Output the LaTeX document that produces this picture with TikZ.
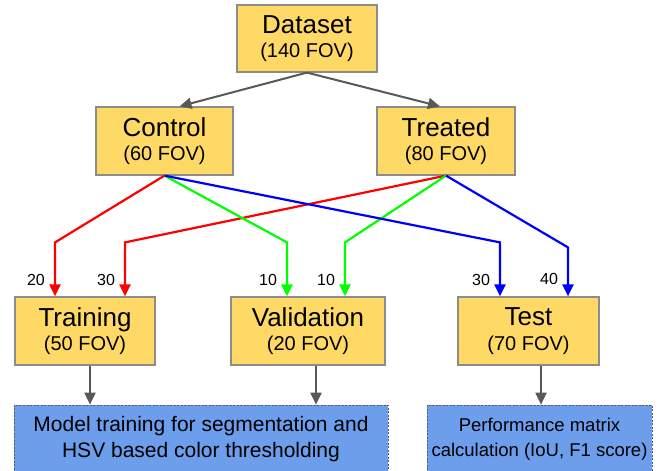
\documentclass[tikz,border=0pt]{standalone}
\usepackage{fontspec}
\setmainfont{Liberation Sans}
\usetikzlibrary{arrows.meta, positioning, calc}
\definecolor{boxyellow}{RGB}{255, 217, 102}
\definecolor{boxedge}{RGB}{140, 140, 140}
\definecolor{taskblue}{RGB}{109, 158, 235}
\definecolor{flowgray}{RGB}{89, 89, 89}
\definecolor{splitred}{RGB}{255, 0, 0}
\definecolor{splitgreen}{RGB}{0, 255, 0}
\definecolor{splitblue}{RGB}{0, 0, 255}
\newcommand{\fovtext}[2]{{\fontsize{26}{26}\selectfont\raisebox{0pt}[\height][0pt]{#1}}\\[9pt]{\fontsize{20}{20}\selectfont (#2 FOV)}}
\tikzset{
  fovnode/.style={draw=boxedge, fill=boxyellow, line width=1.2pt, minimum height=68pt, inner sep=0pt, align=center},
  tasknode/.style={draw=flowgray, dash pattern=on 2pt off 1.5pt, line width=0.7pt, fill=taskblue, minimum height=68pt, inner sep=0pt, align=center},
  flowarrow/.style={-{Triangle[length=12pt, width=11pt]}, line width=2pt, flowgray},
  splitarrow/.style={-{Triangle[length=12pt, width=11pt]}, line width=2.2pt},
  cntlabel/.style={font=\fontsize{16}{16}\selectfont, text=black, inner sep=0pt},
}
\begin{document}
\begin{tikzpicture}[x=1pt, y=-1pt]
  \useasboundingbox (0,0) rectangle (659,471);
  % yellow boxes
  \node[fovnode, minimum width=140pt, minimum height=67pt] (data) at (307,38.5) {\fovtext{Dataset}{140}};
  \node[fovnode, minimum width=137pt] (ctrl) at (164.5,141) {\fovtext{Control}{60}};
  \node[fovnode, minimum width=138pt] (trt) at (446,141) {\fovtext{Treated}{80}};
  \node[fovnode, minimum width=140pt] (train) at (85,331) {\fovtext{Training}{50}};
  \node[fovnode, minimum width=154pt] (valid) at (308,331) {\fovtext{Validation}{20}};
  \node[fovnode, minimum width=141pt] (test) at (528.5,331) {\fovtext{Test}{70}};
  % blue boxes
  \node[tasknode, minimum width=374pt, font=\fontsize{21}{26}\selectfont] (model) at (201,439)
    {Model training for segmentation and\\HSV based color thresholding};
  \node[tasknode, minimum width=225pt, font=\fontsize{18.5}{25}\selectfont] (perf) at (539.5,439)
    {Performance matrix\\calculation (IoU, F1 score)};
  % dataset split
  \draw[flowarrow] (data.south) -- ($(ctrl.north)+(15,0)$);
  \draw[flowarrow] (data.south) -- ($(trt.north)+(-6,0)$);
  % red: training
  \draw[splitarrow, splitred] (ctrl.south) -- ($(train.north)+(-30,-54)$) -- ($(train.north)+(-30,0)$)
    node[cntlabel, pos=0.69, left=9pt] {20};
  \draw[splitarrow, splitred] (trt.south) -- ($(train.north)+(40,-54)$) -- ($(train.north)+(40,0)$)
    node[cntlabel, pos=0.69, left=9pt] {30};
  % green: validation
  \draw[splitarrow, splitgreen] (ctrl.south) -- ($(valid.north)+(-21,-54)$) -- ($(valid.north)+(-21,0)$)
    node[cntlabel, pos=0.69, left=9pt] {10};
  \draw[splitarrow, splitgreen] (trt.south) -- ($(valid.north)+(37,-54)$) -- ($(valid.north)+(37,0)$)
    node[cntlabel, pos=0.69, left=9pt] {10};
  % blue: test
  \draw[splitarrow, splitblue] (ctrl.south) -- ($(test.north)+(-28.5,-54)$) -- ($(test.north)+(-28.5,0)$)
    node[cntlabel, pos=0.69, left=9pt] {30};
  \draw[splitarrow, splitblue] (trt.south) -- ($(test.north)+(39.5,-49)$) -- ($(test.north)+(39.5,0)$)
    node[cntlabel, pos=0.65, left=9pt] {40};
  % to the tasks
  \coordinate (trainout) at ($(train.south)+(5,0)$);
  \coordinate (validout) at ($(valid.south)+(8,0)$);
  \coordinate (testout) at ($(test.south)+(12.5,0)$);
  \draw[flowarrow] (trainout) -- (trainout |- model.north);
  \draw[flowarrow] (validout) -- (validout |- model.north);
  \draw[flowarrow] (testout) -- (testout |- perf.north);
\end{tikzpicture}
\end{document}
